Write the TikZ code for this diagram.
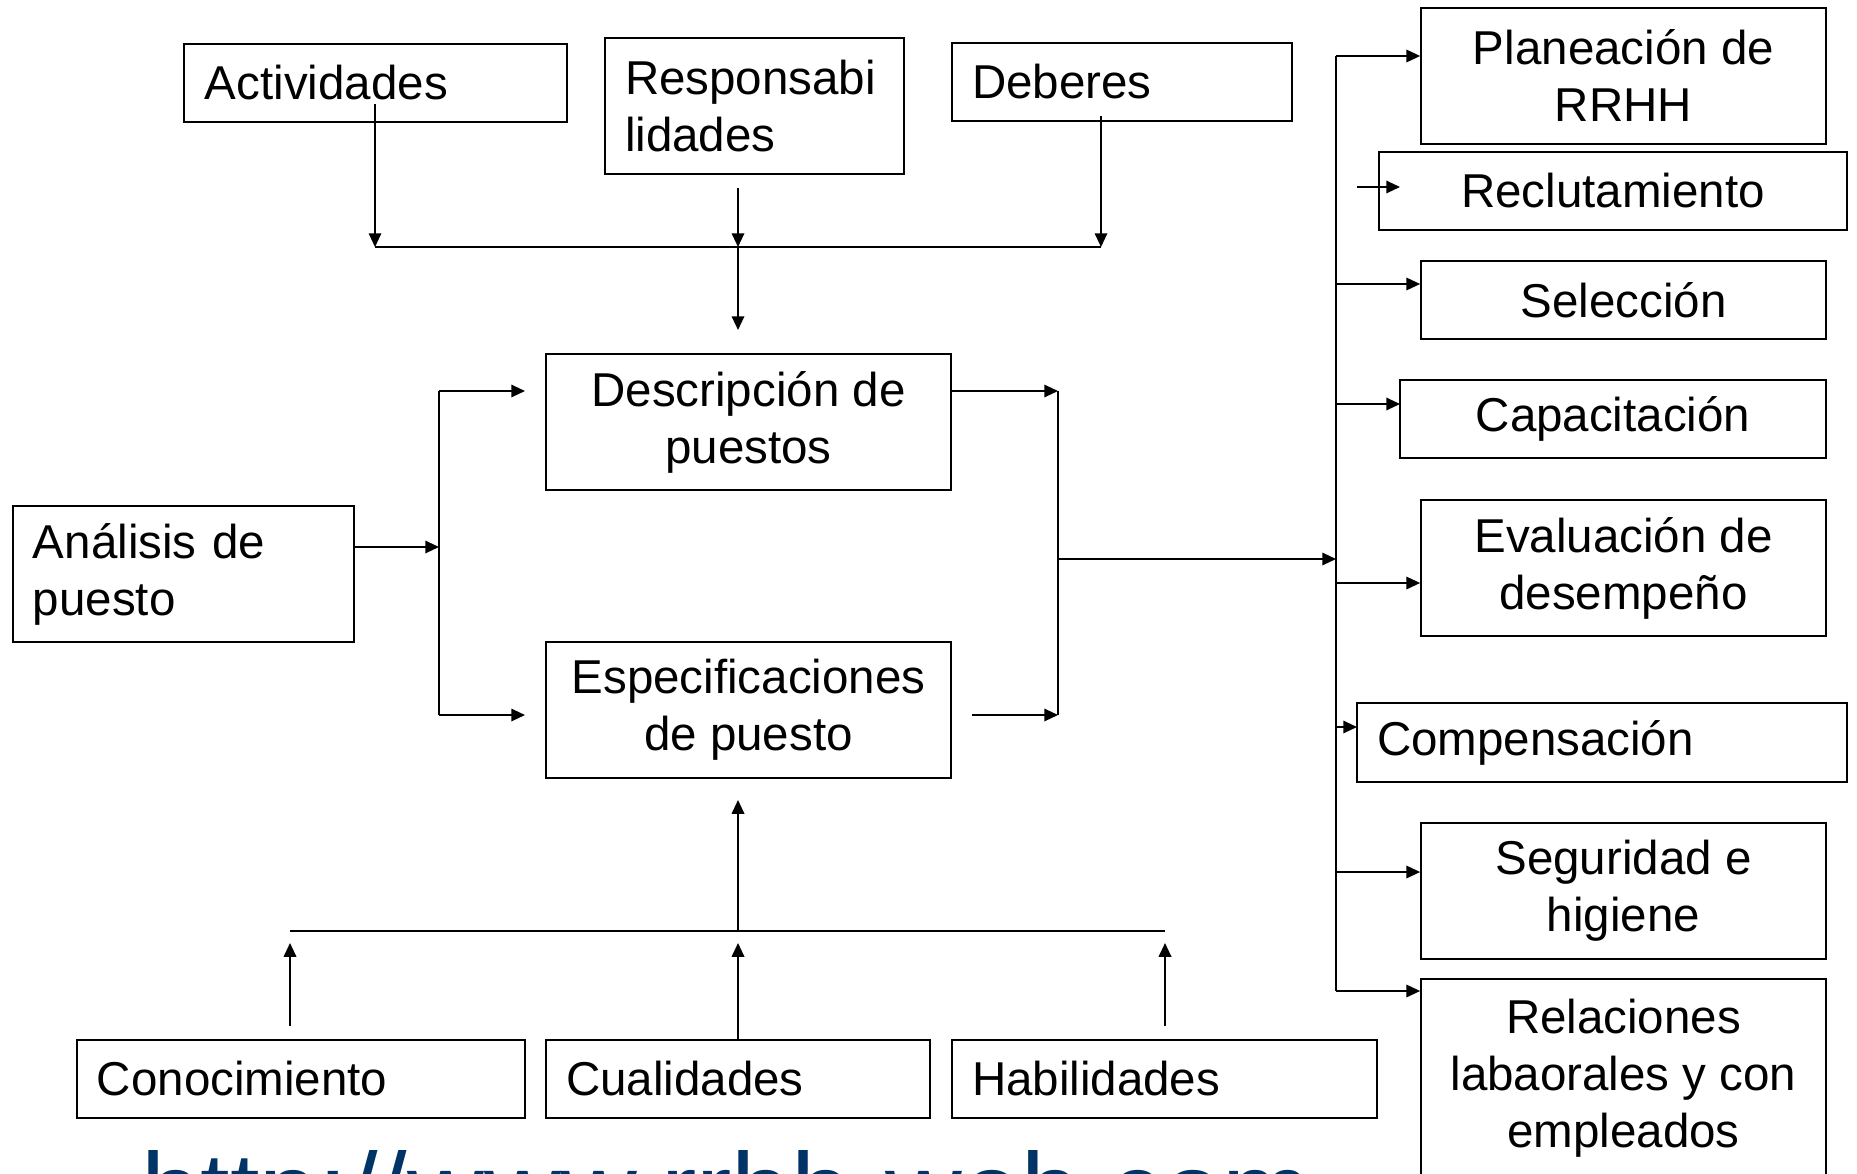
\documentclass[tikz,border=0pt]{standalone}
\usepackage{fontspec}
\setmainfont{Liberation Sans}
\usetikzlibrary{arrows.meta}
\definecolor{urlblue}{RGB}{0,51,102}
\begin{document}
\begin{tikzpicture}[x=0.4pt,y=-0.4pt,
  box/.style={draw, line width=0.7pt, inner sep=0pt, font=\fontsize{19}{22.8}\selectfont},
  cbox/.style={box, align=center},
  lbox/.style={box, align=left, text width=#1},
  arr/.style={line width=0.7pt, -{Triangle[length=5.5pt,width=5pt]}},
  ln/.style={line width=0.7pt},
]
\useasboundingbox (0,0) rectangle (1857,1173);
\clip (0,0) rectangle (1857,1173);
\fill[white] (0,0) rectangle (1857,1173);

% top row
\node[lbox=136.4pt, minimum width=153.2pt, minimum height=31.2pt] (act) at (375.5,83) {Actividades};
\node[lbox=103.6pt, minimum width=119.6pt, minimum height=54.4pt] (resp) at (754.5,106) {Responsabi\\lidades};
\node[lbox=120pt, minimum width=136pt, minimum height=31.2pt] (deb) at (1122,82) {Deberes};

% middle
\node[cbox, minimum width=162pt, minimum height=54.4pt] (desc) at (748.5,422) {Descripción de\\puestos};
\node[cbox, minimum width=162pt, minimum height=54.4pt] (espec) at (748.5,710) {Especificaciones\\de puesto};
\node[lbox=120.4pt, minimum width=136.4pt, minimum height=54.4pt] (anal) at (183.5,574) {Análisis de\\puesto};

% bottom row
\node[lbox=163.2pt, minimum width=179.2pt, minimum height=31.2pt] (con) at (301,1079) {Conocimiento};
\node[lbox=137.6pt, minimum width=153.6pt, minimum height=31.2pt] (cua) at (738,1079) {Cualidades};
\node[lbox=154pt, minimum width=170pt, minimum height=31.2pt] (hab) at (1164.5,1079) {Habilidades};

% right column
\node[cbox, minimum width=162pt, minimum height=54.4pt] (plan) at (1623.5,76) {Planeación de\\RRHH};
\node[cbox, minimum width=187.2pt, minimum height=31.2pt] (recl) at (1613,191) {Reclutamiento};
\node[cbox, minimum width=162pt, minimum height=31.2pt] (sel) at (1623.5,300) {Selección};
\node[cbox, minimum width=170.4pt, minimum height=31.2pt] (cap) at (1613,419) {Capacitación};
\node[cbox, minimum width=162pt, minimum height=54.4pt] (eval) at (1623.5,568) {Evaluación de\\desempeño};
\node[lbox=180pt, minimum width=196pt, minimum height=31.6pt] (comp) at (1602,742.5) {Compensación};
\node[cbox, minimum width=162pt, minimum height=54.4pt] (seg) at (1623.5,891) {Seguridad e\\higiene};
\node[cbox, minimum width=162pt, minimum height=79.2pt] (rel) at (1623.5,1078) {Relaciones\\labaorales y con\\empleados};

% url
\node[anchor=base west, inner sep=0pt, font=\fontsize{42.5}{42.5}\selectfont, text=urlblue] (url) at (141,1227) {http://www.rrhh-web.com};

% ---- coordinates
\coordinate (actS) at (375,104);
\coordinate (respS) at (738,188);
\coordinate (debS) at (1101,116);
\coordinate (tbarL) at (375,247);
\coordinate (tbarM) at (738,247);
\coordinate (tbarR) at (1101,247);
\coordinate (descN) at (738,330);

\coordinate (lj) at (439,547);
\coordinate (ljT) at (439,391);
\coordinate (ljB) at (439,715);
\coordinate (descW) at (525,391);
\coordinate (especW) at (525,715);

\coordinate (rjT) at (1058,391);
\coordinate (rj) at (1058,559);
\coordinate (rjB) at (1058,715);
\coordinate (especE) at (972,715);
\coordinate (bus) at (1336,559);
\coordinate (busT) at (1336,56);
\coordinate (busB) at (1336,991);

\coordinate (reclS) at (1357,187);
\coordinate (reclE) at (1400,187);
\coordinate (selA) at (1336,284);
\coordinate (capA) at (1336,404);
\coordinate (capE) at (1400,404);
\coordinate (evalA) at (1336,583);
\coordinate (compA) at (1336,727);
\coordinate (compE) at (1357,727);
\coordinate (segA) at (1336,872);

\coordinate (bbL) at (290,931);
\coordinate (bbM) at (738,931);
\coordinate (bbR) at (1165,931);
\coordinate (especS) at (738,800);
\coordinate (conN) at (290,1026);
\coordinate (conT) at (290,943);
\coordinate (cuaN) at (738,1040);
\coordinate (cuaT) at (738,943);
\coordinate (habN) at (1165,1026);
\coordinate (habT) at (1165,943);

% ---- top connectors
\draw[ln] (tbarL) -- (tbarR);
\draw[arr] (actS) -- (tbarL);
\draw[arr] (respS) -- (tbarM);
\draw[arr] (debS) -- (tbarR);
\draw[arr] (tbarM) -- (descN);

% ---- left connectors
\draw[arr] (anal.east |- lj) -- (lj);
\draw[ln] (ljT) -- (ljB);
\draw[arr] (ljT) -- (descW);
\draw[arr] (ljB) -- (especW);

% ---- right-middle connectors
\draw[arr] (desc.east |- rjT) -- (rjT);
\draw[arr] (especE) -- (rjB);
\draw[ln] (rjT) -- (rjB);
\draw[arr] (rj) -- (bus);

% ---- bus
\draw[ln] (busT) -- (busB);
\draw[arr] (busT) -- (plan.west |- busT);
\draw[arr] (reclS) -- (reclE);
\draw[arr] (selA) -- (sel.west |- selA);
\draw[arr] (capA) -- (capE);
\draw[arr] (evalA) -- (eval.west |- evalA);
\draw[arr] (compA) -- (compE);
\draw[arr] (segA) -- (seg.west |- segA);
\draw[arr] (busB) -- (rel.west |- busB);

% ---- bottom connectors
\draw[ln] (bbL) -- (bbR);
\draw[arr] (bbM) -- (especS);
\draw[arr] (conN) -- (conT);
\draw[arr] (cuaN) -- (cuaT);
\draw[arr] (habN) -- (habT);
\end{tikzpicture}
\end{document}
